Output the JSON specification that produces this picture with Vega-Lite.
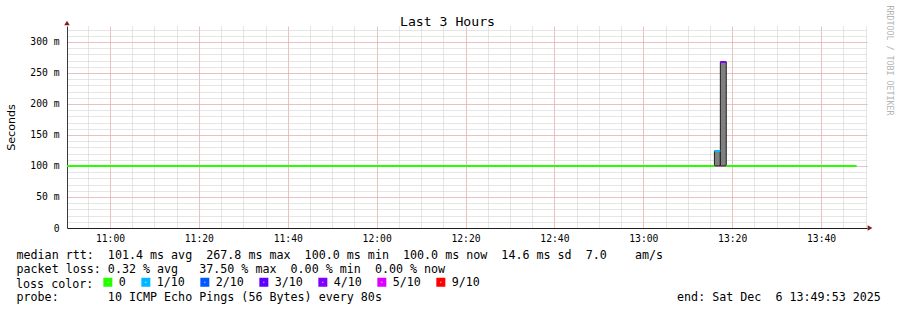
{
  "$schema": "https://vega.github.io/schema/vega-lite/v6.json",
  "width": 800,
  "height": 202,
  "autosize": "none",
  "padding": {"left": 67, "top": 26, "right": 30, "bottom": 82},
  "background": "white",
  "title": {"text": "Last 3 Hours", "frame": "group", "anchor": "middle", "dx": -19.5, "dy": 34, "offset": 0, "baseline": "alphabetic",
    "font": "DejaVu Sans Mono", "fontSize": 13.15, "fontWeight": "normal", "color": "#000000"},
  "config": {"view": {"stroke": null}},
  "layer": [
    {
      "data": {"values": [
        {"start": "2025-12-06T13:16:00Z", "end": "2025-12-06T13:17:20Z", "lo": 0.1, "hi": 0.1242},
        {"start": "2025-12-06T13:17:20Z", "end": "2025-12-06T13:18:40Z", "lo": 0.1, "hi": 0.2678}
      ]},
      "mark": {"type": "bar", "fill": "#808080", "stroke": "#1e1e1e", "strokeWidth": 1},
      "encoding": {
        "x": {"field": "start", "type": "temporal",
          "scale": {"type": "utc", "domain": ["2025-12-06T10:50:20Z", "2025-12-06T13:50:20Z"]},
          "axis": {"orient": "bottom",
            "values": [1765018500000, 1765018800000, 1765019100000, 1765019400000, 1765019700000, 1765020000000, 1765020300000, 1765020600000, 1765020900000, 1765021200000, 1765021500000, 1765021800000, 1765022100000, 1765022400000, 1765022700000, 1765023000000, 1765023300000, 1765023600000, 1765023900000, 1765024200000, 1765024500000, 1765024800000, 1765025100000, 1765025400000, 1765025700000, 1765026000000, 1765026300000, 1765026600000, 1765026900000, 1765027200000, 1765027500000, 1765027800000, 1765028100000, 1765028400000, 1765028700000, 1765029000000],
            "tickCount": 1000,
            "labelExpr": "utcminutes(datum.value) % 20 === 0 ? utcFormat(datum.value, '%H:%M') : ''",
            "labelFont": "DejaVu Sans Mono", "labelFontSize": 9.7, "labelColor": "#000000", "labelPadding": 5,
            "labelOverlap": false, "labelFlush": false, "labelBound": false,
            "ticks": false, "tickSize": 0, "domainColor": "#1f1f1f", "domainWidth": 1,
            "grid": true, "gridColor": "#cccccc", "gridDash": [1, 1], "gridWidth": 1,
            "title": [
              "median rtt:\u00a0\u00a0101.4 ms avg\u00a0\u00a0267.8 ms max\u00a0\u00a0100.0 ms min\u00a0\u00a0100.0 ms now\u00a0\u00a014.6 ms sd\u00a0\u00a07.0\u00a0\u00a0\u00a0\u00a0am/s",
              "packet loss: 0.32 % avg\u00a0\u00a0\u00a037.50 % max\u00a0\u00a00.00 % min\u00a0\u00a00.00 % now"
            ],
            "titleX": -51, "titleY": 30, "titleAlign": "left", "titleBaseline": "alphabetic",
            "titleFont": "DejaVu Sans Mono", "titleFontSize": 11.68, "titleFontWeight": "normal", "titleColor": "#000000", "titleLineHeight": 14}},
        "x2": {"field": "end"},
        "y": {"field": "lo", "type": "quantitative",
          "scale": {"domain": [0, 0.3258], "nice": false, "zero": false},
          "axis": {"orient": "left",
            "values": [0, 0.01, 0.02, 0.03, 0.04, 0.05, 0.06, 0.07, 0.08, 0.09, 0.1, 0.11, 0.12, 0.13, 0.14, 0.15, 0.16, 0.17, 0.18, 0.19, 0.2, 0.21, 0.22, 0.23, 0.24, 0.25, 0.26, 0.27, 0.28, 0.29, 0.3, 0.31, 0.32],
            "tickCount": 1000,
            "labelExpr": "round(datum.value*1000) % 50 === 0 ? (round(datum.value*1000) === 0 ? '0' : round(datum.value*1000) + ' m') : ''",
            "labelFont": "DejaVu Sans Mono", "labelFontSize": 9.7, "labelColor": "#000000", "labelPadding": 8,
            "labelOverlap": false, "labelFlush": false, "labelBound": false,
            "ticks": false, "tickSize": 0, "domainColor": "#3a3a3a", "domainWidth": 1,
            "grid": true, "gridColor": "#cccccc", "gridDash": [1, 1], "gridWidth": 1,
            "title": "Seconds", "titleX": -56, "titleBaseline": "middle", "titleFont": "DejaVu Sans", "titleFontSize": 11.1,
            "titleFontWeight": "normal", "titleColor": "#000000"}},
        "y2": {"field": "hi"}
      }
    },
    {
      "data": {"values": [
        {"start": "2025-12-06T10:50:20Z", "end": "2025-12-06T13:16:00Z", "median": 0.1, "loss": "0"},
        {"start": "2025-12-06T13:16:00Z", "end": "2025-12-06T13:17:20Z", "median": 0.1242, "loss": "1/10"},
        {"start": "2025-12-06T13:17:20Z", "end": "2025-12-06T13:18:40Z", "median": 0.2678, "loss": "4/10"},
        {"start": "2025-12-06T13:18:40Z", "end": "2025-12-06T13:48:00Z", "median": 0.1, "loss": "0"}
      ]},
      "mark": {"type": "rule", "strokeWidth": 2},
      "encoding": {
        "x": {"field": "start", "type": "temporal",
          "axis": {"orient": "top",
            "values": [1765018800000, 1765020000000, 1765021200000, 1765022400000, 1765023600000, 1765024800000, 1765026000000, 1765027200000, 1765028400000],
            "tickCount": 1000, "labels": false, "ticks": false, "domain": false,
            "grid": true, "gridColor": "#f09a9a", "gridDash": [1, 1], "gridWidth": 1,
            "title": "probe:\u00a0\u00a0\u00a0\u00a0\u00a0\u00a0\u00a010 ICMP Echo Pings (56 Bytes) every 80s\u00a0\u00a0\u00a0\u00a0\u00a0\u00a0\u00a0\u00a0\u00a0\u00a0\u00a0\u00a0\u00a0\u00a0\u00a0\u00a0\u00a0\u00a0\u00a0\u00a0\u00a0\u00a0\u00a0\u00a0\u00a0\u00a0\u00a0\u00a0\u00a0\u00a0\u00a0\u00a0\u00a0\u00a0\u00a0\u00a0\u00a0\u00a0\u00a0\u00a0\u00a0\u00a0end: Sat Dec\u00a0\u00a06 13:49:53 2025",
            "titleX": -51, "titleY": 274, "titleAlign": "left", "titleBaseline": "alphabetic",
            "titleFont": "DejaVu Sans Mono", "titleFontSize": 11.68, "titleFontWeight": "normal", "titleColor": "#000000"}},
        "x2": {"field": "end"},
        "y": {"field": "median", "type": "quantitative",
          "axis": {"orient": "right",
            "values": [0.05, 0.1, 0.15, 0.2, 0.25, 0.3],
            "tickCount": 1000, "labels": false, "ticks": false, "domain": false,
            "grid": true, "gridColor": "#f09a9a", "gridDash": [1, 1], "gridWidth": 1,
            "title": "RRDTOOL / TOBI OETIKER", "titleAngle": 90, "titleX": 21.5, "titleY": -21, "titleAlign": "left",
            "titleBaseline": "middle", "titleFont": "DejaVu Sans Mono", "titleFontSize": 8.3, "titleFontWeight": "normal", "titleColor": "#b4b4b4"}},
        "color": {"field": "loss", "type": "nominal",
          "scale": {"domain": ["0", "1/10", "2/10", "3/10", "4/10", "5/10", "9/10"],
                    "range": ["#26ff00", "#00b8ff", "#0059ff", "#5e00ff", "#7e00ff", "#dd00ff", "#ff0000"]},
          "legend": {"orient": "none", "legendX": -51, "legendY": 250, "direction": "horizontal",
            "title": "loss color:", "titleOrient": "left", "titleFont": "DejaVu Sans Mono", "titleFontSize": 11.68,
            "titleFontWeight": "normal", "titleColor": "#000000", "titlePadding": 8,
            "labelFont": "DejaVu Sans Mono", "labelFontSize": 11.68, "labelColor": "#000000", "labelOffset": 5,
            "columnPadding": 9, "symbolType": "square", "symbolSize": 25, "symbolStrokeWidth": 4, "symbolOpacity": 1}}
      }
    },
    {
      "data": {"values": [
        {"kind": "x-arrow"}
      ]},
      "mark": {"type": "point", "shape": "triangle-right", "size": 30, "filled": true, "opacity": 1, "color": "#801f1f", "xOffset": 3},
      "encoding": {
        "x": {"datum": {"year": 2025, "month": 12, "date": 6, "hours": 13, "minutes": 50, "seconds": 20, "utc": true}, "type": "temporal", "axis": null},
        "y": {"datum": 0, "type": "quantitative", "axis": null}
      }
    },
    {
      "data": {"values": [
        {"kind": "y-arrow"}
      ]},
      "mark": {"type": "point", "shape": "triangle-up", "size": 30, "filled": true, "opacity": 1, "color": "#801f1f", "yOffset": -3},
      "encoding": {
        "x": {"datum": {"year": 2025, "month": 12, "date": 6, "hours": 10, "minutes": 50, "seconds": 20, "utc": true}, "type": "temporal", "axis": null},
        "y": {"datum": 0.3258, "type": "quantitative", "axis": null}
      }
    }
  ]
}
